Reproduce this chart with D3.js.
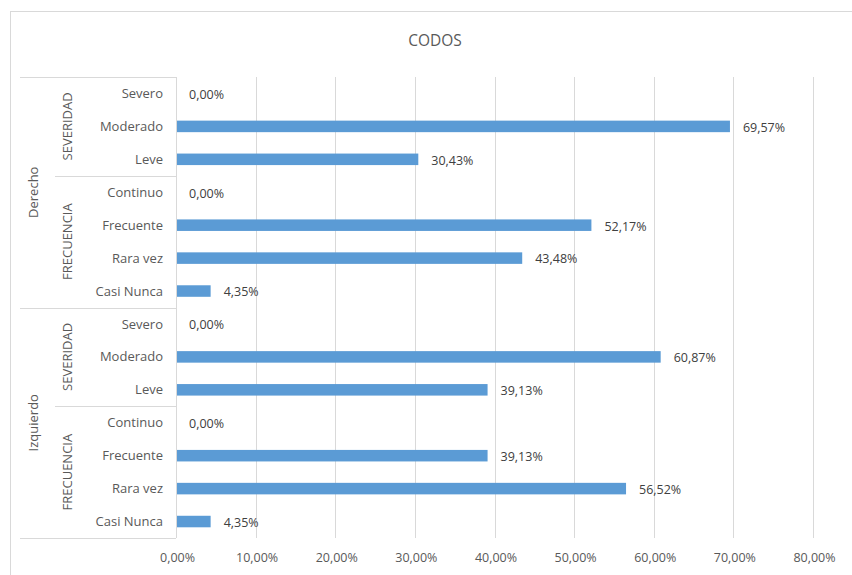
<!DOCTYPE html>
<html>
<head>
<meta charset="utf-8">
<script src="https://cdn.jsdelivr.net/npm/d3@7"></script>
<style>
  html, body { margin: 0; padding: 0; background: #fff; }
  #chart { width: 852px; height: 575px; }
  text { font-family: "Open Sans", "Noto Sans", sans-serif; fill: #595959; }
</style>
</head>
<body>
<div id="chart"></div>
<script>
// data, top to bottom as drawn
const sides = ["Derecho", "Izquierdo"];
const groups = ["SEVERIDAD", "FRECUENCIA"];
const groupItems = {
  SEVERIDAD: ["Severo", "Moderado", "Leve"],
  FRECUENCIA: ["Continuo", "Frecuente", "Rara vez", "Casi Nunca"]
};
const derechoValues = [0.00, 69.57, 30.43, 0.00, 52.17, 43.48, 4.35];
const izquierdoValues = [0.00, 60.87, 39.13, 0.00, 39.13, 56.52, 4.35];
const xTicks = [0, 10, 20, 30, 40, 50, 60, 70, 80];

window.addEventListener("DOMContentLoaded", () => {
  const width = 852, height = 575;
  const fmt = v => v.toFixed(2).replace(".", ",") + "%";

  // flatten into rows
  const rows = [];
  const valuesBySide = { Derecho: derechoValues, Izquierdo: izquierdoValues };
  sides.forEach(side => {
    let k = 0;
    groups.forEach(grp => {
      groupItems[grp].forEach(cat => {
        rows.push({ side, grp, cat, value: valuesBySide[side][k++] });
      });
    });
  });
  rows.forEach((r, i) => r.id = i);

  const svg = d3.select("#chart").append("svg")
    .attr("width", width).attr("height", height);

  // chart frame
  svg.append("rect")
    .attr("x", 10.5).attr("y", 11.5)
    .attr("width", 900).attr("height", 700)
    .attr("fill", "none").attr("stroke", "#d9d9d9").attr("stroke-width", 1);

  svg.append("text")
    .attr("x", 435).attr("y", 46)
    .attr("text-anchor", "middle")
    .style("font-size", "15.5px")
    .text("CODOS");

  const top = 77, bottom = 538, left = 176, right = 813;

  const x = d3.scaleLinear().domain([0, 80]).range([left, right]);
  const y = d3.scaleBand().domain(rows.map(r => r.id))
    .range([top, bottom]).paddingInner(0.65).paddingOuter(0.325);
  const step = y.step();

  // gridlines
  svg.append("g").selectAll("line").data(xTicks).join("line")
    .attr("x1", d => Math.round(x(d)) + 0.5).attr("x2", d => Math.round(x(d)) + 0.5)
    .attr("y1", top).attr("y2", bottom)
    .attr("stroke", "#d9d9d9");

  // x axis labels
  const xAxis = d3.axisBottom(x).tickValues(xTicks).tickSize(0).tickPadding(0)
    .tickFormat(d => fmt(d));
  svg.append("g")
    .attr("transform", `translate(1,${553})`)
    .call(xAxis)
    .call(g => g.select(".domain").remove())
    .call(g => g.selectAll("text").attr("fill", "#595959")
      .style("font-size", "12.5px").style("font-family", '"Open Sans", sans-serif'));

  // bars
  svg.append("g").selectAll("rect").data(rows).join("rect")
    .attr("x", x(0))
    .attr("y", d => y(d.id))
    .attr("width", d => x(d.value) - x(0))
    .attr("height", y.bandwidth())
    .attr("fill", "#5b9bd5");

  // value labels
  svg.append("g").selectAll("text").data(rows).join("text")
    .attr("x", d => x(d.value) + 13)
    .attr("y", d => y(d.id) + y.bandwidth() / 2 + 1)
    .attr("dy", "0.35em")
    .style("font-size", "12.5px")
    .style("fill", "#404040")
    .text(d => fmt(d.value));

  // category labels
  svg.append("g").selectAll("text").data(rows).join("text")
    .attr("x", 163)
    .attr("y", d => y(d.id) + y.bandwidth() / 2)
    .attr("dy", "0.35em")
    .attr("text-anchor", "end")
    .style("font-size", "13px")
    .text(d => d.cat);

  // multi-level axis lines
  const axisG = svg.append("g").attr("stroke", "#d9d9d9").attr("fill", "none");
  axisG.append("line")
    .attr("x1", left + 0.5).attr("x2", left + 0.5).attr("y1", top).attr("y2", bottom);

  const rowTop = id => y(id) - y.paddingOuter() * step;
  const rowBottom = id => rowTop(id) + step;

  // side spans and group spans
  const sideSpans = sides.map(s => {
    const rs = rows.filter(r => r.side === s);
    return { name: s, y0: rowTop(rs[0].id), y1: rowBottom(rs[rs.length - 1].id) };
  });
  const groupSpans = [];
  sides.forEach(s => groups.forEach(g => {
    const rs = rows.filter(r => r.side === s && r.grp === g);
    groupSpans.push({ name: g, y0: rowTop(rs[0].id), y1: rowBottom(rs[rs.length - 1].id) });
  }));

  // horizontal separators: side borders from x=20, group borders from x=55
  const sideEdges = [...new Set(sideSpans.flatMap(s => [s.y0, s.y1]).map(Math.round))];
  axisG.selectAll(".sideEdge").data(sideEdges).join("line")
    .attr("x1", 20).attr("x2", left)
    .attr("y1", d => d + 0.5).attr("y2", d => d + 0.5);
  const innerEdges = groupSpans.filter((g, i) => i % 2 === 0).map(g => Math.round(g.y1));
  axisG.selectAll(".grpEdge").data(innerEdges).join("line")
    .attr("x1", 55).attr("x2", left)
    .attr("y1", d => d + 0.5).attr("y2", d => d + 0.5);

  // rotated group labels
  svg.append("g").selectAll("text").data(groupSpans).join("text")
    .attr("transform", d => `translate(67,${(d.y0 + d.y1) / 2}) rotate(-90)`)
    .attr("dy", "0.35em")
    .attr("text-anchor", "middle")
    .style("font-size", "13px")
    .text(d => d.name);

  svg.append("g").selectAll("text").data(sideSpans).join("text")
    .attr("transform", d => `translate(33,${(d.y0 + d.y1) / 2}) rotate(-90)`)
    .attr("dy", "0.35em")
    .attr("text-anchor", "middle")
    .style("font-size", "13px")
    .text(d => d.name);
});
</script>
</body>
</html>
